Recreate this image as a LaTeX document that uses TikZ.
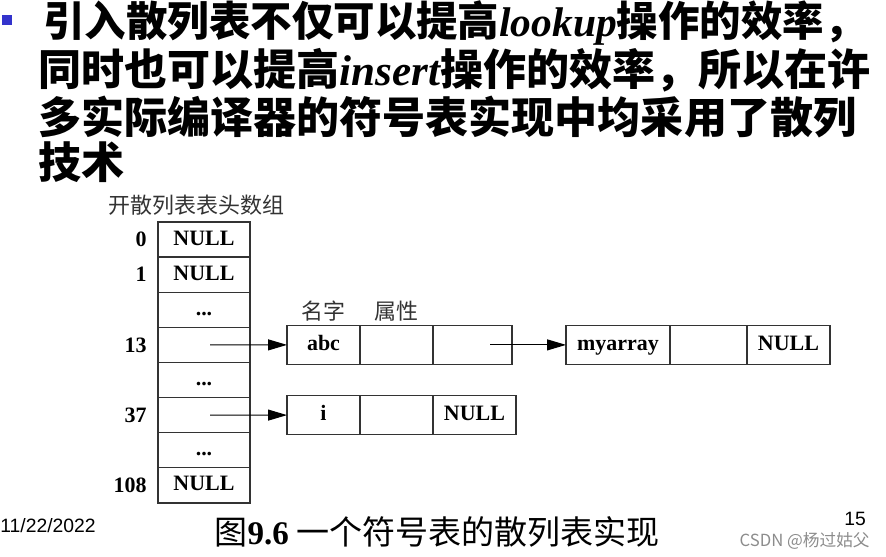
\documentclass[tikz,border=0pt]{standalone}
\usepackage{fontspec}
\setmainfont{Liberation Serif}
\setsansfont{Liberation Sans}
\newfontfamily\cjk{Noto Sans CJK SC}
\usetikzlibrary{arrows.meta,positioning}
\definecolor{bulletblue}{RGB}{51,51,204}
\newcommand\vdts{\textbf{...}}

\begin{document}
\begin{tikzpicture}[
  x=0.02cm, y=-0.02cm,
  >={Triangle[length=0.38cm,width=0.22cm]},
  cell/.style={draw=black!80, line width=0.8pt, outer sep=0pt, minimum height=0.78cm, inner sep=0pt,
    text height=1.5ex, text depth=0.1ex, font=\fontsize{12.5}{14}\selectfont\bfseries},
  slot/.style={cell, minimum width=1.84cm, minimum height=0.702cm},
  idx/.style={anchor=east, inner sep=0pt, font=\fontsize{12.5}{14}\selectfont\bfseries},
  fld/.style={inner sep=0pt, font=\cjk\fontsize{12.5}{14}\selectfont, text=black!80},
  head/.style={anchor=west, inner sep=0pt, font=\cjk\bfseries\fontsize{24.5}{28}\selectfont},
  arrow/.style={->, line width=0.6pt}
]
  \useasboundingbox (0,0) rectangle (886,557);

  % slide text
  \node[fill=bulletblue, minimum size=0.2cm, inner sep=0pt] (bullet) at (7,20) {};
  \node[head, font=\cjk\bfseries\fontsize{23.6}{28}\selectfont] (l1) at (43,23) {引入散列表不仅可以提高{\rmfamily\bfseries\itshape lookup}操作的效率，};
  \node[head] (l2) at (38,70) {同时也可以提高{\rmfamily\bfseries\itshape insert}操作的效率，所以在许};
  \node[head] (l3) at (38,117) {多实际编译器的符号表实现中均采用了散列};
  \node[head] (l4) at (38,162) {技术};

  % bucket array
  \node[fld, anchor=west] (title) at (108,205) {开散列表表头数组};
  \node[slot] (h0) at (204,239.6) {NULL};
  \node[slot, below=0cm of h0] (h1) {NULL};
  \node[slot, below=0cm of h1] (h2) {\vdts};
  \node[slot, below=0cm of h2] (h3) {};
  \node[slot, below=0cm of h3] (h4) {\vdts};
  \node[slot, below=0cm of h4] (h5) {};
  \node[slot, below=0cm of h5] (h6) {\vdts};
  \node[slot, below=0cm of h6] (h7) {NULL};
  \node[idx] at ([xshift=-0.22cm]h0.west) {0};
  \node[idx] at ([xshift=-0.22cm]h1.west) {1};
  \node[idx] at ([xshift=-0.22cm]h3.west) {13};
  \node[idx] at ([xshift=-0.22cm]h5.west) {37};
  \node[idx] at ([xshift=-0.22cm]h7.west) {108};

  % entries
  \node[cell, minimum width=1.46cm] (abc1) at (323.5,344.9) {abc};
  \node[cell, minimum width=1.46cm, right=0cm of abc1] (abc2) {};
  \node[cell, minimum width=1.58cm, right=0cm of abc2] (abc3) {};
  \node[fld] (name) at ([yshift=0.68cm]abc1.center) {名字};
  \node[fld] (attr) at ([yshift=0.68cm]abc2.center) {属性};

  \node[cell, minimum width=2.08cm] (m1) at (618,344.9) {myarray};
  \node[cell, minimum width=1.54cm, right=0cm of m1] (m2) {};
  \node[cell, minimum width=1.66cm, right=0cm of m2] (m3) {NULL};

  \node[cell, minimum width=1.46cm] (i1) at (323.5,415.1) {i};
  \node[cell, minimum width=1.46cm, right=0cm of i1] (i2) {};
  \node[cell, minimum width=1.66cm, right=0cm of i2] (i3) {NULL};

  \draw[arrow] ([xshift=0.12cm]h3.center) -- (abc1.west);
  \draw[arrow] ([xshift=0.12cm]h5.center) -- (i1.west);
  \draw[arrow] ([xshift=0.36cm]abc3.center) -- (m1.west);

  % footer
  \node[font=\cjk\fontsize{18.8}{20}\selectfont] (cap) at (437,532) {图{\rmfamily\bfseries 9.6} 一个符号表的散列表实现};
  \node[anchor=west, inner sep=0pt, font=\sffamily\fontsize{11}{12}\selectfont] (date) at (0,526) {11/22/2022};
  \node[inner sep=0pt, font=\sffamily\fontsize{11}{12}\selectfont] (page) at (855,519) {15};
  \node[anchor=east, inner sep=0pt, text=black!45, font=\cjk\fontsize{9.5}{10}\selectfont] (mark) at (870,541) {CSDN @杨过姑父};
\end{tikzpicture}
\end{document}
